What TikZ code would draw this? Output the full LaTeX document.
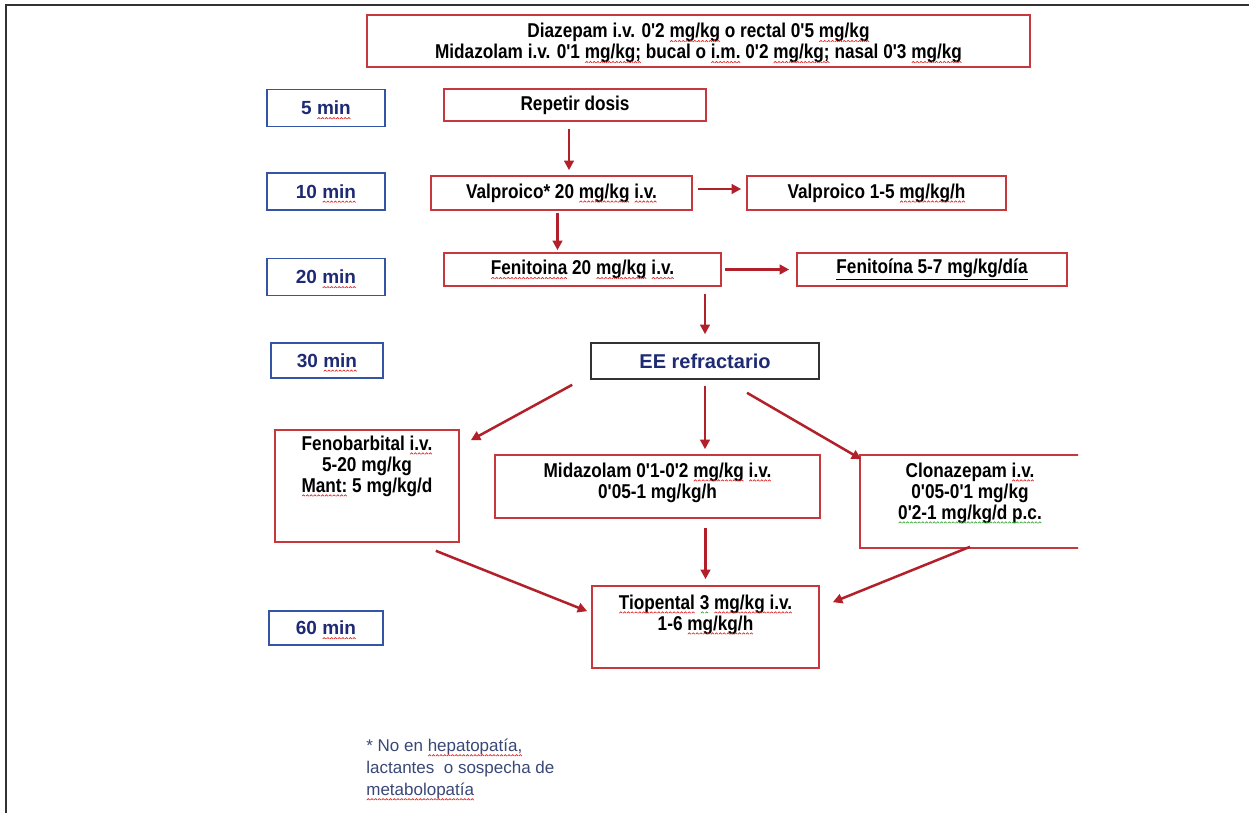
\documentclass[tikz,border=0pt]{standalone}
\usepackage{fontspec}
\usetikzlibrary{arrows.meta}
\setmainfont{Liberation Sans}
\newfontfamily\narrowsans[FakeStretch=0.86]{Liberation Sans}

\definecolor{boxred}{RGB}{200,55,60}
\definecolor{arrred}{RGB}{178,32,42}
\definecolor{timeblue}{RGB}{52,84,165}
\definecolor{navy}{RGB}{30,42,115}
\definecolor{notecol}{RGB}{58,72,120}
\definecolor{wavered}{RGB}{225,40,40}
\definecolor{wavegreen}{RGB}{60,170,60}
\definecolor{framegray}{RGB}{50,50,50}

% spell-check style wavy underlines
\newcommand\wavetooth[1]{\begin{pgfpicture}\pgfsetstrokecolor{#1}\pgfsetlinewidth{0.7pt}%
  \pgfpathmoveto{\pgfpoint{0pt}{0pt}}\pgfpathlineto{\pgfpoint{1.5pt}{1.4pt}}%
  \pgfpathlineto{\pgfpoint{3pt}{0pt}}\pgfusepath{stroke}\end{pgfpicture}}
\newcommand\wavy[2]{\mbox{\setbox0\hbox{#2}\rlap{\copy0}%
  \raisebox{-4.5pt}[0pt][0pt]{\hbox to\wd0{\xleaders\hbox{\wavetooth{#1}}\hfill}}}}
\newcommand\sq[1]{\wavy{wavered}{#1}}
\newcommand\sqg[1]{\wavy{wavegreen}{#1}}

\tikzset{
  drugfont/.style={font=\narrowsans\bfseries\fontsize{20}{21}\selectfont},
  drug/.style={draw=boxred, line width=1.6pt, drugfont, align=center, inner sep=0pt},
  inner/.style={drugfont, align=center, inner sep=0pt, anchor=north},
  timebox/.style={draw=timeblue, line width=1.4pt, font=\bfseries\fontsize{19}{21}\selectfont,
    text=navy, inner sep=0pt, minimum width=118pt, minimum height=37pt},
  arr/.style={draw=arrred, line width=2.5pt, -{Triangle[length=9.5pt,width=9.5pt]}},
}

\begin{document}
\begin{tikzpicture}[x=1pt,y=-1pt]
\useasboundingbox (0,0) rectangle (1249,813);
\fill[white] (0,0) rectangle (1249,813);
\draw[framegray, line width=2pt] (6,813) -- (6,5) -- (1249,5);

% initial treatment
\node[drug, minimum width=663pt, minimum height=52pt,
  label={[inner, anchor=center, yshift=-2pt]center:{Diazepam i.v. 0'2 \sq{mg/kg} o rectal 0'5 \sq{mg/kg}\\
   Midazolam i.v. 0'1 \sq{mg/kg;} bucal o \sq{i.m.} 0'2 \sq{mg/kg;} nasal 0'3 \sq{mg/kg}}}]
  (top) at (698.5,41) {};

% time column
\node[timebox] (t5)  at (326,108)   {5 \sq{min}};
\node[timebox] (t10) at (326,191.5) {10 \sq{min}};
\node[timebox] (t20) at (326,277)   {20 \sq{min}};
\node[timebox, minimum width=112pt, minimum height=35pt] (t30) at (327,360.5) {30 \sq{min}};
\node[timebox, minimum width=114pt, minimum height=34pt] (t60) at (326,628)   {60 \sq{min}};

% first line steps
\node[drug, minimum width=262pt, minimum height=32pt] (rep) at (575,105) {Repetir dosis};
\node[drug, minimum width=261pt, minimum height=34pt] (valp) at (561.5,193)
  {Valproico* 20 \sq{mg/kg} \sq{i.v.}};
\node[drug, minimum width=259pt, minimum height=34pt] (valp2) at (876.5,193)
  {Valproico 1-5 \sq{mg/kg/h}};
\node[drug, minimum width=277pt, minimum height=33pt] (fenit) at (582.5,269.5)
  {\sq{Fenitoina} 20 \sq{mg/kg} \sq{i.v.}};
\node[drug, minimum width=270pt, minimum height=33pt] (fenit2) at (932,269.5)
  {\underline{Fenitoína 5-7 mg/kg/día}};

% refractory status
\node[draw=framegray, line width=1.6pt, minimum width=228pt, minimum height=36pt, inner sep=0pt,
  font=\bfseries\fontsize{20}{22}\selectfont, text=navy] (ee) at (705,361) {EE refractario};

\node[drug, minimum width=184pt, minimum height=112pt,
  label={[inner, yshift=-6pt]north:{Fenobarbital \sq{i.v.}\\5-20 mg/kg\\\sq{Mant:} 5 mg/kg/d}}]
  (fenob) at (367,486) {};
\node[drug, minimum width=325pt, minimum height=63pt,
  label={[inner, yshift=-8pt]north:{Midazolam 0'1-0'2 \sq{mg/kg} \sq{i.v.}\\0'05-1 mg/kg/h}}]
  (midaz) at (657.5,486.5) {};
\begin{scope}
  \clip (0,0) rectangle (1078,813);
  \node[drug, minimum width=220pt, minimum height=93pt,
    label={[inner, yshift=-8pt]north:{Clonazepam \sq{i.v.}\\0'05-0'1 mg/kg\\\sqg{0'2-1 mg/kg/d p.c.}}}]
    (clon) at (970,501.5) {};
\end{scope}
\node[drug, minimum width=227pt, minimum height=82pt,
  label={[inner, yshift=-9pt]north:{\sq{Tiopental} \sqg{3} \sq{mg/kg i.v.}\\1-6 \sq{mg/kg/h}}}]
  (tiop) at (705.5,627) {};

% note
\node[anchor=north west, align=left, inner sep=0pt, text=notecol,
  font=\fontsize{17}{22}\selectfont] (note) at (366,739)
  {* No en \sq{hepatopatía,}\\lactantes\ \ o sospecha de\\\sq{metabolopatía}};

% connectors
\draw[arr, shorten <=7pt, shorten >=5pt] ([xshift=-6pt]rep.south) -- ([xshift=-6pt]rep.south |- valp.north);
\draw[arr, shorten <=5pt, shorten >=5pt] ([yshift=4pt]valp.east) -- ([yshift=4pt]valp2.west);
\draw[arr, shorten <=2pt, shorten >=2pt] ([xshift=-4pt]valp.south) -- ([xshift=-4pt]valp.south |- fenit.north);
\draw[arr, shorten <=3pt, shorten >=7pt] (fenit.east) -- (fenit2.west);
\draw[arr, shorten <=7pt, shorten >=8pt] (ee.north |- fenit.south) -- (ee.north);
\draw[arr] ([xshift=-18pt,yshift=-5pt]ee.south west) -- ([xshift=11pt,yshift=-11pt]fenob.north east);
\draw[arr, shorten <=6pt, shorten >=5pt] (ee.south) -- (ee.south |- midaz.north);
\draw[arr] ([xshift=42pt,yshift=-13pt]ee.south) -- ([xshift=2pt,yshift=-5pt]clon.north west);
\draw[arr] ([xshift=-24pt,yshift=-8pt]fenob.south east) -- ([xshift=-4pt,yshift=-26pt]tiop.north west);
\draw[arr, shorten <=9pt, shorten >=6pt] (tiop.north |- midaz.south) -- (tiop.north);
\draw[arr] ([yshift=2pt]clon.south) -- ([xshift=13pt,yshift=-17pt]tiop.north east);
\end{tikzpicture}
\end{document}
